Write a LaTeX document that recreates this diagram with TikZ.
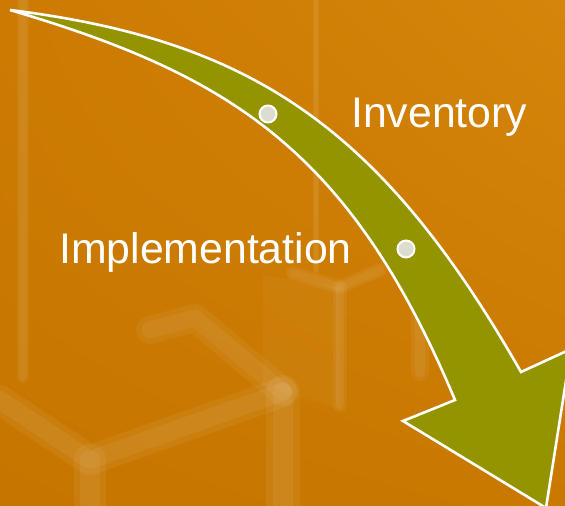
\documentclass[tikz,border=0pt]{standalone}
\usepackage{fontspec}
\setmainfont{Liberation Sans}
\usetikzlibrary{shadings}
\definecolor{bgA}{RGB}{204,122,2}
\definecolor{bgB}{RGB}{213,133,10}
\definecolor{bgC}{RGB}{198,118,0}
\definecolor{bgD}{RGB}{201,121,0}
\definecolor{olive}{RGB}{148,148,0}
\definecolor{dotfill}{RGB}{220,221,208}
\begin{document}
\begin{tikzpicture}[x=1pt,y=-1pt,
  ghost/.style={white,opacity=0.055,line cap=round,line join=round},
  arrowbody/.style={fill=olive,draw=white,line width=2.6pt,line join=miter},
  marker/.style={circle,fill=dotfill,draw=white,line width=2pt,minimum size=17pt,inner sep=0pt},
  label/.style={text=white,font=\fontsize{42.8}{50}\selectfont,anchor=base west,inner sep=0pt}]
\useasboundingbox (0,0) rectangle (565,506);
\shade[upper left=bgA,upper right=bgB,lower left=bgC,lower right=bgD] (0,0) rectangle (565,506);
% faint background photo structures
\foreach \w/\o in {1/0.6,0.6/1}{
\begin{scope}[opacity=\o]
\draw[ghost,line width=\w*12pt] (23,0) -- (23,377);
\draw[ghost,line width=\w*6pt] (316,0) -- (316,270);
\draw[ghost,line width=\w*30pt] (0,400) -- (90,460) -- (283,392);
\draw[ghost,line width=\w*28pt] (150,330) -- (195,318) -- (283,392);
\draw[ghost,line width=\w*32pt] (90,460) -- (90,520);
\draw[ghost,line width=\w*34pt] (283,392) -- (283,520);
\draw[ghost,line width=\w*14pt] (293,273) -- (340,287) -- (380,270);
\draw[ghost,line width=\w*14pt] (340,287) -- (340,405);
\draw[ghost,line width=\w*18pt] (420,305) -- (420,372);
\end{scope}}
\fill[white,opacity=0.03] (263,275) -- (340,287) -- (340,410) -- (263,385) -- cycle;
% arrow
\coordinate (tail) at (10,10);
\coordinate (ushaft) at (521,372);
\coordinate (rbarb) at (571,349);
\coordinate (tip) at (546,508);
\coordinate (lbarb) at (403,421);
\coordinate (lshaft) at (455,400);
\draw[arrowbody] (tail) .. controls (250,40) and (380,125) .. (ushaft)
  -- (rbarb) -- (tip) -- (lbarb) -- (lshaft)
  .. controls (350,150) and (230,75) .. (tail) -- cycle;
\node[marker] (dotA) at (268,114) {};
\node[marker] (dotB) at (406,249) {};
\node[label] (inv) at (351,127) {Inventory};
\node[label] (impl) at (59,263) {Implementation};
\end{tikzpicture}
\end{document}
